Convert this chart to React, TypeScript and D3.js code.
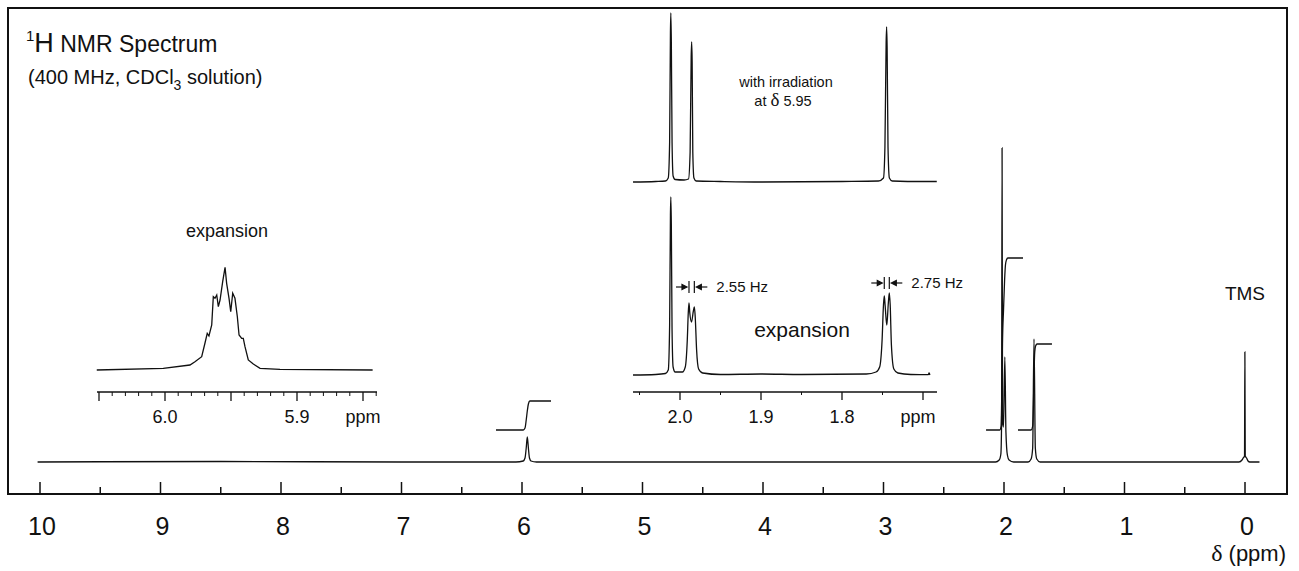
import * as d3 from 'd3';

// main spectrum, [ppm, intensity]
const mainSpectrum: [number, number][] = [
    [10.02, 0], [8.5, 0.5], [7.0, 0], [6.05, 0], [5.99, 1], [5.975, 4], [5.965, 14], [5.956, 25], [5.947, 14],
    [5.938, 4], [5.925, 1], [5.88, 0], [3.0, 0], [2.07, 0], [2.04, 2], [2.026, 8], [2.02, 40], [2.016, 314],
    [2.012, 40], [2.004, 35], [1.993, 105], [1.984, 30], [1.972, 7], [1.958, 2], [1.92, 0], [1.8, 0],
    [1.775, 3], [1.762, 14], [1.751, 123], [1.74, 14], [1.728, 3], [1.7, 0], [1.0, 0], [0.05, 0], [0.025, 2],
    [0.015, 4], [0.004, 6], [0.001, 110], [-0.002, 6], [-0.013, 4], [-0.025, 1], [-0.04, 0], [-0.12, 0],
];

// integral traces, [ppm, integral]
const integral6: [number, number][] = [
    [6.216, 0], [5.99, 0], [5.975, 2], [5.965, 10], [5.955, 20], [5.947, 26], [5.935, 29], [5.759, 29],
];
const integral2: [number, number][] = [
    [2.149, 0], [2.035, 0], [2.024, 4], [2.018, 40], [2.013, 86], [2.004, 120], [1.995, 150], [1.988, 165],
    [1.98, 170], [1.968, 172], [1.842, 172],
];
const integral175: [number, number][] = [
    [1.884, 0], [1.775, 0], [1.762, 4], [1.755, 30], [1.75, 60], [1.745, 78], [1.738, 84], [1.725, 86], [1.602, 86],
];

// decoupled spectrum (irradiation at 5.95)
const irradiated: [number, number][] = [
    [2.058, 0], [2.03, 0.5], [2.018, 1], [2.0145, 4], [2.0128, 40], [2.0118, 150], [2.0113, 169], [2.0107, 140],
    [2.0098, 40], [2.0085, 6], [2.006, 2.5], [1.995, 2], [1.9895, 3], [1.9875, 30], [1.9862, 125], [1.9856, 140],
    [1.985, 120], [1.9842, 30], [1.9828, 4], [1.98, 1], [1.95, 0.5], [1.9, 0], [1.8, 0.5], [1.755, 1],
    [1.7488, 4], [1.747, 35], [1.7455, 140], [1.7449, 155], [1.7443, 135], [1.7432, 35], [1.7415, 4], [1.738, 1],
    [1.7, 0.5], [1.683, 0.5],
];

// expansion of the 1.7 - 2.05 region
const expansion2: [number, number][] = [
    [2.058, 0], [2.03, 0.5], [2.018, 1.5], [2.0145, 5], [2.0128, 50], [2.0118, 160], [2.0113, 178], [2.0107, 150],
    [2.0098, 45], [2.0085, 8], [2.006, 3], [1.997, 3], [1.9935, 8], [1.991, 35], [1.9898, 62], [1.9889, 72],
    [1.9879, 62], [1.9858, 53], [1.9835, 64], [1.9823, 68], [1.9812, 58], [1.9795, 25], [1.977, 6], [1.972, 2],
    [1.95, 0.5], [1.9, 1], [1.85, 0.5], [1.77, 1], [1.758, 3], [1.7535, 8], [1.7505, 35], [1.7488, 70],
    [1.7478, 79], [1.7468, 70], [1.7447, 50], [1.7428, 72], [1.7416, 82], [1.7405, 70], [1.739, 30], [1.736, 6],
    [1.731, 2], [1.715, 0.5], [1.6935, 0.3], [1.6925, 2], [1.6915, 0],
];

// expansion of the 5.95 multiplet
const expansion6: [number, number][] = [
    [6.0517, 0], [6.0013, 1.7], [5.9811, 5], [5.9773, 8.3], [5.9722, 13.3], [5.9697, 27], [5.968, 36.7],
    [5.9667, 34], [5.9646, 45], [5.9634, 73.3], [5.9621, 71.7], [5.9608, 75], [5.9596, 63.3], [5.9583, 70],
    [5.9563, 88.3], [5.9545, 102.7], [5.9533, 86.7], [5.9515, 71.7], [5.9502, 58.3], [5.9487, 76.7],
    [5.947, 71.7], [5.9452, 53.3], [5.9439, 35], [5.9419, 31.7], [5.9407, 31.7], [5.9394, 23.3], [5.9369, 10],
    [5.9331, 6], [5.928, 1.7], [5.9129, 0.7], [5.8427, 0],
];

const mainMajorTicks = [10, 9, 8, 7, 6, 5, 4, 3, 2, 1, 0];
const mainMinorTicks = [9.5, 8.5, 7.5, 6.5, 5.5, 4.5, 3.5, 2.5, 1.5, 0.5];
const mainTickLabels = ['10', '9', '8', '7', '6', '5', '4', '3', '2', '1', '0'];

const expMajorTicks = [2.0, 1.9, 1.8, 1.7];
const expMinorTicks = [2.05, 1.95, 1.85, 1.75];
const expTickLabels = ['2.0', '1.9', '1.8'];

const leftMajorTicks = [6.05, 6.0, 5.95, 5.9, 5.85];
const leftMinorTicks = [6.04, 6.03, 6.02, 6.01, 5.99, 5.98, 5.97, 5.96, 5.94, 5.93, 5.92, 5.91, 5.89, 5.88, 5.87, 5.86, 5.84];
const leftTickLabels = ['6.0', '5.9'];

// coupling constants: the two lines marked, and the label
const couplings = [
    { a: 1.9889, b: 1.9823, label: '2.55 Hz' },
    { a: 1.7478, b: 1.7416, label: '2.75 Hz' },
];

const FONT = "'Liberation Sans', Arial, Helvetica, sans-serif";
const SERIF = "'Liberation Serif', 'DejaVu Serif', serif";

export default function App() {
    // main axes
    const x = d3.scaleLinear().domain([10, 0]).range([40, 1245]);
    const y = d3.scaleLinear().domain([0, 314]).range([462, 148]);
    const yInt = d3.scaleLinear().domain([0, 172]).range([430, 258]);

    // insets
    const xExp = d3.scaleLinear().domain([2.0, 1.8]).range([680, 842]);
    const yTop = d3.scaleLinear().domain([0, 169]).range([182, 13]);
    const yMid = d3.scaleLinear().domain([0, 178]).range([375, 197]);
    const xL = d3.scaleLinear().domain([6.0, 5.9]).range([165, 297]);
    const yL = d3.scaleLinear().domain([0, 102.7]).range([370, 267.3]);

    const path = (xs: d3.ScaleLinear<number, number>, ys: d3.ScaleLinear<number, number>, data: [number, number][], curve: d3.CurveFactory = d3.curveMonotoneX) =>
        d3.line<[number, number]>().x(d => xs(d[0])).y(d => ys(d[1])).curve(curve)(data) || '';

    const axisY = 494;
    const insetAxisY = 392;
    const stroke = { fill: 'none', stroke: '#111', strokeWidth: 1.3 };

    return (
        <svg width={1299} height={571} style={{ position: 'absolute', left: 0, top: 0, background: '#fff' }}>
            {/* frame */}
            <rect x={8} y={8} width={1279} height={axisY - 8} fill="none" stroke="#111" strokeWidth={2} />

            {/* main axis ticks */}
            {mainMajorTicks.map(t => (
                <line key={'M' + t} x1={x(t)} x2={x(t)} y1={axisY} y2={axisY - 12} stroke="#111" strokeWidth={1.5} />
            ))}
            {mainMinorTicks.map(t => (
                <line key={'m' + t} x1={x(t)} x2={x(t)} y1={axisY} y2={axisY - 7} stroke="#111" strokeWidth={1.5} />
            ))}
            {mainMajorTicks.map((t, i) => (
                <text key={'L' + t} x={x(t) + 2} y={535} textAnchor="middle" fontFamily={FONT} fontSize={25} fill="#111">
                    {mainTickLabels[i]}
                </text>
            ))}
            <text x={1286} y={561} textAnchor="end" fontFamily={FONT} fontSize={22} fill="#111">
                <tspan fontFamily={SERIF} fontSize={24}>δ</tspan> (ppm)
            </text>

            {/* main spectrum and integrals */}
            <path d={path(x, y, mainSpectrum)} {...stroke} />
            <path d={path(x, yInt, integral6)} {...stroke} />
            <path d={path(x, yInt, integral2)} {...stroke} />
            <path d={path(x, yInt, integral175)} {...stroke} />

            <text x={x(0)} y={300} textAnchor="middle" fontFamily={FONT} fontSize={19} fill="#111">TMS</text>

            {/* title */}
            <text x={26} y={52} fontFamily={FONT} fill="#111">
                <tspan fontSize={15} dy={-11}>1</tspan>
                <tspan fontSize={27} dy={11}>H</tspan>
                <tspan fontSize={23}> NMR Spectrum</tspan>
            </text>
            <text x={28} y={84} fontFamily={FONT} fontSize={20} fill="#111">
                (400 MHz,  CDCl<tspan fontSize={14} dy={6}>3</tspan><tspan dy={-6}> solution)</tspan>
            </text>

            {/* top inset: irradiated */}
            <path d={path(xExp, yTop, irradiated)} {...stroke} />
            <text x={786} y={87} textAnchor="middle" fontFamily={FONT} fontSize={14.5} fill="#111">with irradiation</text>
            <text x={783} y={106} textAnchor="middle" fontFamily={FONT} fontSize={14.5} fill="#111">
                at <tspan fontFamily={SERIF} fontSize={19}>δ</tspan> 5.95
            </text>

            {/* middle inset: expansion of 1.7 - 2.05 */}
            <path d={path(xExp, yMid, expansion2)} {...stroke} />
            <line x1={633} x2={937} y1={insetAxisY} y2={insetAxisY} stroke="#111" strokeWidth={1.3} />
            {expMajorTicks.map(t => (
                <line key={'E' + t} x1={xExp(t)} x2={xExp(t)} y1={insetAxisY} y2={insetAxisY + 8} stroke="#111" strokeWidth={1.3} />
            ))}
            {expMinorTicks.map(t => (
                <line key={'e' + t} x1={xExp(t)} x2={xExp(t)} y1={insetAxisY} y2={insetAxisY + 3} stroke="#111" strokeWidth={1} />
            ))}
            {expTickLabels.map((l, i) => (
                <text key={'EL' + l} x={xExp(expMajorTicks[i])} y={423} textAnchor="middle" fontFamily={FONT} fontSize={18} fill="#111">{l}</text>
            ))}
            <text x={xExp(1.7) - 5} y={423} textAnchor="middle" fontFamily={FONT} fontSize={18} fill="#111">ppm</text>
            <text x={802} y={337} textAnchor="middle" fontFamily={FONT} fontSize={21} fill="#111">expansion</text>

            {couplings.map((c, i) => {
                const xa = xExp(c.a);
                const xb = xExp(c.b);
                const yc = i === 0 ? 287 : 283;
                return (
                    <g key={c.label} stroke="#111" strokeWidth={1.2}>
                        <line x1={xa} x2={xa} y1={yc - 6} y2={yc + 6} />
                        <line x1={xb} x2={xb} y1={yc - 6} y2={yc + 6} />
                        <line x1={xa - 13} x2={xa - 3} y1={yc} y2={yc} />
                        <path d={`M${xa - 2},${yc} L${xa - 7},${yc - 2.5} L${xa - 7},${yc + 2.5} Z`} fill="#111" />
                        <line x1={xb + 3} x2={xb + 13} y1={yc} y2={yc} />
                        <path d={`M${xb + 2},${yc} L${xb + 7},${yc - 2.5} L${xb + 7},${yc + 2.5} Z`} fill="#111" />
                        <text x={xb + 22} y={yc + 5} stroke="none" fill="#111" fontFamily={FONT} fontSize={15}>{c.label}</text>
                    </g>
                );
            })}

            {/* left inset: expansion of 5.95 */}
            <path d={path(xL, yL, expansion6, d3.curveLinear)} {...stroke} />
            <line x1={97} x2={377} y1={insetAxisY} y2={insetAxisY} stroke="#111" strokeWidth={1.3} />
            {leftMajorTicks.map(t => (
                <line key={'LM' + t} x1={xL(t)} x2={xL(t)} y1={insetAxisY} y2={insetAxisY + 9} stroke="#111" strokeWidth={1.3} />
            ))}
            {leftMinorTicks.map(t => (
                <line key={'Lm' + t} x1={xL(t)} x2={xL(t)} y1={insetAxisY} y2={insetAxisY + 4} stroke="#111" strokeWidth={1} />
            ))}
            {leftTickLabels.map((l, i) => (
                <text key={'LL' + l} x={xL(leftMajorTicks[i + i + 1])} y={423} textAnchor="middle" fontFamily={FONT} fontSize={18} fill="#111">{l}</text>
            ))}
            <text x={xL(5.85)} y={423} textAnchor="middle" fontFamily={FONT} fontSize={18} fill="#111">ppm</text>
            <text x={227} y={237} textAnchor="middle" fontFamily={FONT} fontSize={18} fill="#111">expansion</text>
        </svg>
    );
}
